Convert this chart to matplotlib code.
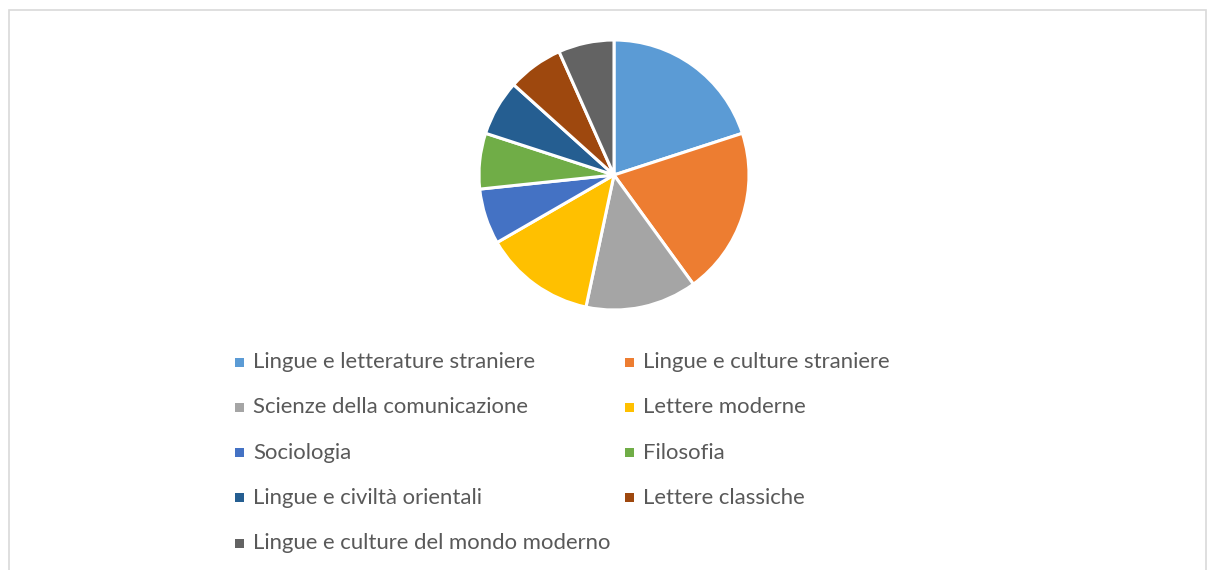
import matplotlib
matplotlib.use('Agg')
import matplotlib.pyplot as plt
from matplotlib.patches import Rectangle

# data
labels = ['Lingue e letterature straniere', 'Lingue e culture straniere',
          'Scienze della comunicazione', 'Lettere moderne',
          'Sociologia', 'Filosofia',
          'Lingue e civiltà orientali', 'Lettere classiche',
          'Lingue e culture del mondo moderno']
values = [3, 3, 2, 2, 1, 1, 1, 1, 1]
colours = ['#5B9BD5', '#ED7D31', '#A5A5A5', '#FFC000', '#4472C4',
           '#70AD47', '#255E91', '#9E480E', '#636363']

W, H = 1207, 570
fig = plt.figure(figsize=(W/100, H/100), dpi=100)

# chart border (light grey frame, bottom is off the picture)
fig.patches.append(Rectangle((9/W, -0.1), (1206-9)/W, 1.1 - 10/H,
                             transform=fig.transFigure, fill=False,
                             edgecolor='#D9D9D9', linewidth=1.2))

# pie
cx, cy, r = 614, 175, 135
ax = fig.add_axes([(cx-r)/W, (H-cy-r)/H, 2*r/W, 2*r/H])
ax.pie(values, colors=colours, startangle=90, counterclock=False, radius=1,
       wedgeprops=dict(edgecolor='white', linewidth=2.2))
ax.set_xlim(-1.0, 1.0)
ax.set_ylim(-1.0, 1.0)
ax.set_aspect('equal')
ax.axis('off')

# legend, filled row by row in two columns
col_x = [235, 625]
row_y0, row_dy = 362, 45.3
for i, (lab, c) in enumerate(zip(labels, colours)):
    row, col = divmod(i, 2)
    x = col_x[col]
    y = row_y0 + row*row_dy
    fig.patches.append(Rectangle((x/W, (H-y-4.5)/H), 9/W, 9/H,
                                 transform=fig.transFigure, facecolor=c,
                                 edgecolor='none'))
    fig.text((x+18)/W, (H-y)/H, lab, va='center', ha='left',
             fontsize=15.9, color='#595959', family='Lato')

fig.savefig('out.png', dpi=100)
